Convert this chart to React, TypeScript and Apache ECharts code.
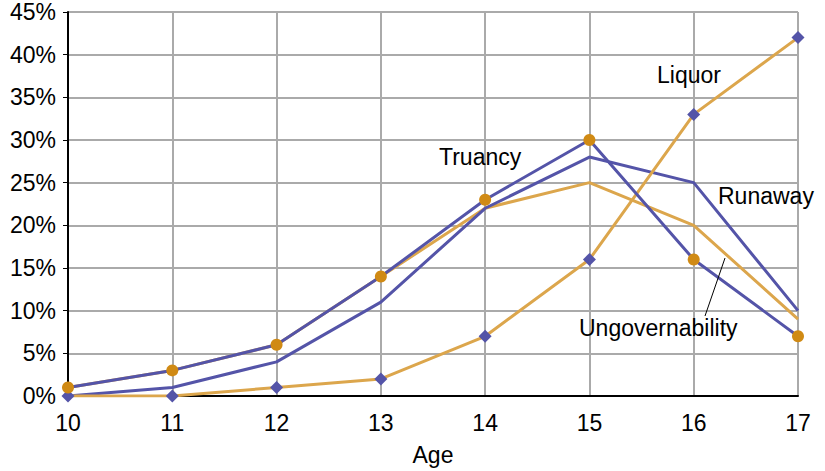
import React, { useEffect, useRef } from "react";
import * as echarts from "echarts";

const ages = ["10", "11", "12", "13", "14", "15", "16", "17"];
const liquor = [0, 0, 1, 2, 7, 16, 33, 42];
const truancy = [1, 3, 6, 14, 23, 30, 16, 7];
const runaway = [0, 1, 4, 11, 22, 28, 25, 10];
const ungovernability = [1, 3, 6, 14, 22, 25, 20, 9];

const BLUE = "#5454a8";
const ORANGE_LINE = "#dca64c";
const ORANGE_MARK = "#d08a14";
const FONT = "Liberation Sans, Arial, sans-serif";
const FS = 23;

export default function App() {
  const ref = useRef<HTMLDivElement>(null);
  useEffect(() => {
    const chart = echarts.init(ref.current!, undefined, { renderer: "svg" });
    const txt = (text: string, left: number, top: number) => ({
      type: "text",
      left,
      top,
      z: 10,
      style: { text, fill: "#000", font: `${FS}px ${FONT}` },
    });
    chart.setOption({
      animation: false,
      textStyle: { fontFamily: FONT },
      grid: { left: 68, right: 27, top: 12, bottom: 74 },
      xAxis: {
        type: "category",
        data: ages,
        boundaryGap: false,
        name: "Age",
        nameLocation: "middle",
        nameGap: 47,
        nameTextStyle: { fontSize: FS, color: "#000", fontFamily: FONT },
        axisLine: { lineStyle: { color: "#000", width: 2 } },
        axisTick: { show: false },
        axisLabel: { fontSize: FS, color: "#000", margin: 15, fontFamily: FONT },
        splitLine: { show: true, lineStyle: { color: "#aaaaaa", width: 2 } },
      },
      yAxis: {
        type: "value",
        min: 0,
        max: 45,
        interval: 5,
        axisLine: { show: true, lineStyle: { color: "#000", width: 2 } },
        axisTick: { show: true, length: 5, lineStyle: { color: "#000", width: 1 } },
        axisLabel: { fontSize: FS, color: "#000", margin: 12, formatter: "{value}%", fontFamily: FONT },
        splitLine: { show: true, lineStyle: { color: "#aaaaaa", width: 2 } },
      },
      series: [
        {
          name: "Ungovernability",
          type: "line",
          data: ungovernability,
          symbol: "none",
          lineStyle: { color: ORANGE_LINE, width: 3 },
          itemStyle: { color: ORANGE_LINE },
          z: 2,
        },
        {
          name: "Runaway",
          type: "line",
          data: runaway,
          symbol: "none",
          lineStyle: { color: BLUE, width: 3 },
          itemStyle: { color: BLUE },
          z: 3,
        },
        {
          name: "Liquor",
          type: "line",
          data: liquor,
          symbol: "diamond",
          symbolSize: 13,
          lineStyle: { color: ORANGE_LINE, width: 3 },
          itemStyle: { color: BLUE },
          z: 4,
        },
        {
          name: "Truancy",
          type: "line",
          data: truancy,
          symbol: "circle",
          symbolSize: 12,
          lineStyle: { color: BLUE, width: 3 },
          itemStyle: { color: ORANGE_MARK },
          z: 5,
        },
      ],
      graphic: [
        txt("Truancy", 439, 145),
        txt("Liquor", 657, 63),
        txt("Runaway", 718, 184),
        txt("Ungovernability", 579, 316),
        { type: "line", shape: { x1: 725, y1: 258, x2: 705, y2: 316 }, style: { stroke: "#000", lineWidth: 1 }, z: 10 },
      ],
    });
    return () => chart.dispose();
  }, []);
  return <div ref={ref} style={{ width: 825, height: 471, position: "absolute", left: 0, top: 0 }} />;
}
